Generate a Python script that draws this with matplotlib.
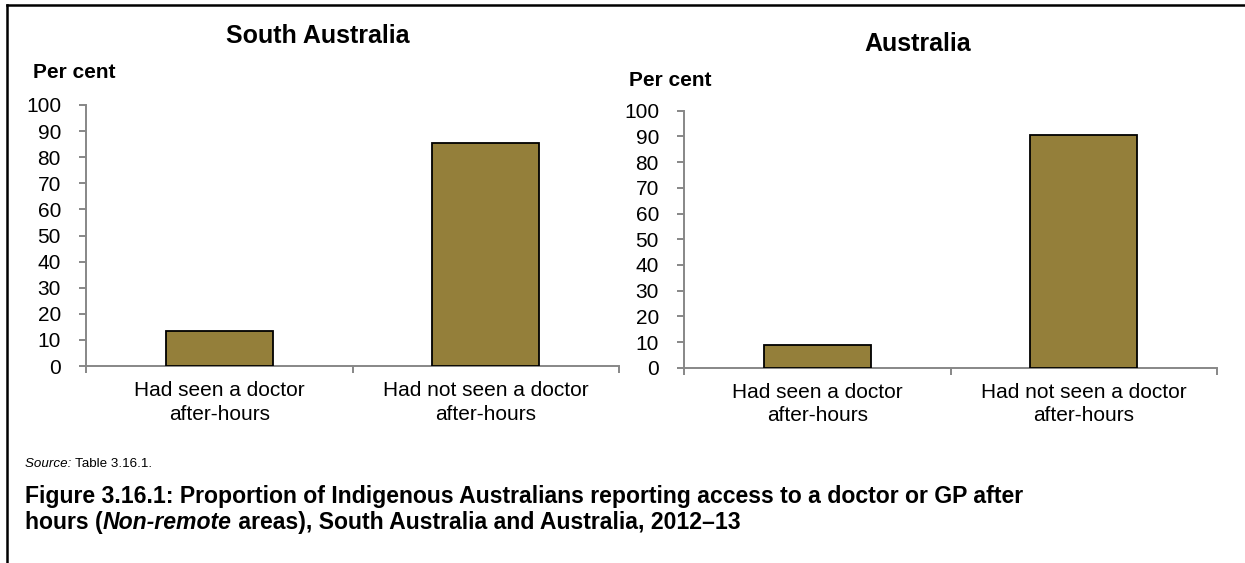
import matplotlib
matplotlib.use("Agg")
import matplotlib.pyplot as plt
from matplotlib.lines import Line2D

plt.rcParams['font.family'] = ['Liberation Sans', 'DejaVu Sans']

categories = ["Had seen a doctor\nafter-hours", "Had not seen a doctor\nafter-hours"]
sa_values = [13.5, 85.4]
aus_values = [8.8, 90.5]
panel_titles = ["South Australia", "Australia"]
y_ticks = [0, 10, 20, 30, 40, 50, 60, 70, 80, 90, 100]

W, H = 1245, 563
fig = plt.figure(figsize=(W / 100, H / 100), dpi=100)

def px_axes(x0, y_top, x1, y_bot):
    return fig.add_axes([x0 / W, 1 - y_bot / H, (x1 - x0) / W, (y_bot - y_top) / H])

bar_color = "#947F3A"
spine_color = "#878787"

def draw_panel(ax, values):
    xs = list(range(len(values)))
    ax.bar(xs, values, width=0.4, color=bar_color, edgecolor="black", linewidth=1.3, zorder=3)
    ax.set_xlim(-0.5, len(values) - 0.5)
    ax.set_ylim(0, 100)
    ax.set_yticks(y_ticks)
    ax.set_yticklabels([str(t) for t in y_ticks], fontsize=15)
    ax.set_xticks(xs)
    ax.set_xticklabels(categories, fontsize=15)
    for lbl in ax.get_xticklabels():
        lbl.set_linespacing(1.3)
    ax.set_xticks([i - 0.5 for i in range(len(values) + 1)], minor=True)
    ax.tick_params(axis="x", which="major", length=0, pad=11)
    ax.tick_params(axis="x", which="minor", length=5, width=1.4, color=spine_color)
    ax.tick_params(axis="y", which="major", length=5, width=1.4, color=spine_color, pad=13)
    for s in ["top", "right"]:
        ax.spines[s].set_visible(False)
    for s in ["left", "bottom"]:
        ax.spines[s].set_color(spine_color)
        ax.spines[s].set_linewidth(1.4)
    ax.set_facecolor("none")

ax1 = px_axes(86, 105, 619, 366)
draw_panel(ax1, sa_values)
ax2 = px_axes(684, 110.7, 1217, 367.7)
draw_panel(ax2, aus_values)

def ftext(x, y, s, **kw):
    return fig.text(x / W, 1 - y / H, s, **kw)

ftext(318, 36, panel_titles[0], ha="center", va="center", fontsize=18, fontweight="bold")
ftext(918, 44, panel_titles[1], ha="center", va="center", fontsize=18, fontweight="bold")
ftext(33, 73, "Per cent", ha="left", va="center", fontsize=15, fontweight="bold")
ftext(629, 81, "Per cent", ha="left", va="center", fontsize=15, fontweight="bold")

renderer = fig.canvas.get_renderer()

def chain(x, y, pieces, **common):
    cur = x
    for s, kw in pieces:
        t = ftext(cur, y, s, ha="left", va="baseline", **common, **kw)
        bb = t.get_window_extent(renderer=renderer)
        cur += bb.width

# Source line
chain(25, 467, [("Source: ", dict(style="italic")), ("Table 3.16.1.", {})], fontsize=9.6)

# Caption
cap_fs = 16.6
chain(25, 503, [("Figure 3.16.1: Proportion of Indigenous Australians reporting access to a doctor or GP after",
                 dict(fontweight="bold"))], fontsize=cap_fs)
chain(25, 529, [("hours (", dict(fontweight="bold")),
                ("Non-remote", dict(fontweight="bold", style="italic")),
                (" areas), South Australia and Australia, 2012–13", dict(fontweight="bold"))],
      fontsize=cap_fs)

# Border lines
fig.add_artist(Line2D([7 / W, 1.0], [1 - 5 / H, 1 - 5 / H], color="black", linewidth=1.8))
fig.add_artist(Line2D([7 / W, 7 / W], [1 - 5 / H, 0], color="black", linewidth=1.8))

fig.savefig("out.png", dpi=100)
